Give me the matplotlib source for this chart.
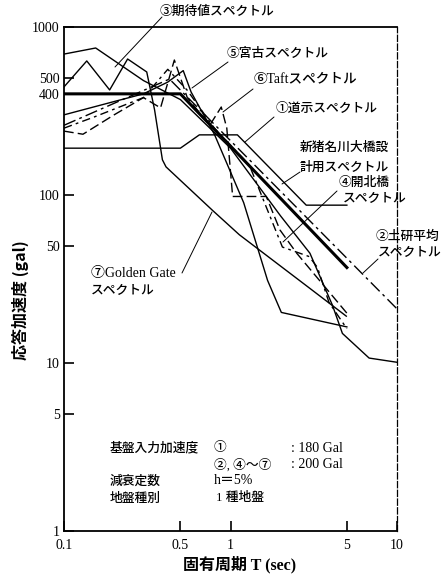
import matplotlib
matplotlib.use("Agg")
import matplotlib.pyplot as plt
from matplotlib.ticker import FixedLocator, NullLocator

plt.rcParams['font.family'] = ['Noto Sans CJK JP', 'DejaVu Sans']
SERIF_MIX = ['Liberation Serif', 'Noto Sans CJK JP', 'DejaVu Sans']

# ---- spectra (period in sec, response acceleration in gal) ----
periods_doji = [0.1, 0.5, 0.65, 1.1, 2.85, 5.0]
accel_doji = [190, 190, 228, 228, 87, 87]

periods_design = [0.1, 0.5, 5.0]
accel_design = [400, 400, 37]

periods_doken = [0.1, 0.43, 10.0]
accel_doken = [260, 490, 21]

periods_expect = [0.1, 0.155, 0.3, 0.5, 1.0, 2.0, 3.0, 4.1, 4.7, 6.8, 10.0]
accel_expect = [690, 750, 480, 370, 190, 75, 45, 22, 15, 10.7, 10.1]

periods_kaihoku = [0.1, 0.15, 0.3, 0.42, 0.55, 0.8, 1.3, 2.05, 2.97, 3.33, 3.9, 5.0]
accel_kaihoku = [250, 290, 380, 560, 420, 250, 150, 49, 43, 37, 23, 16]

periods_miyako = [0.1, 0.2, 0.3, 0.42, 0.52, 0.58, 0.8, 1.2, 1.67, 2.02, 5.0]
accel_miyako = [300, 360, 400, 470, 550, 410, 230, 90, 31, 20, 16.4]

periods_taft = [0.1, 0.13, 0.2, 0.3, 0.38, 0.46, 0.55, 0.75, 0.88, 0.95,
                1.03, 1.64, 1.98, 2.5, 5.0]
accel_taft = [240, 230, 300, 380, 330, 636, 380, 260, 334, 250,
              98, 98, 62, 45, 19.8]

periods_golden = [0.1, 0.137, 0.188, 0.241, 0.314, 0.35, 0.39, 0.41, 0.78,
                  1.13, 2.97, 4.96]
accel_golden = [440, 628, 422, 645, 540, 321, 162, 147, 81, 58, 28, 19]

y_ticks = [1, 5, 10, 50, 100, 400, 500, 1000]
y_tick_labels = ['1', '5', '10', '50', '100', '400', '500', '1000']
x_ticks = [0.1, 0.5, 1, 5, 10]
x_tick_labels = ['0.1', '0.5', '1', '5', '10']

W, H = 447, 578
fig = plt.figure(figsize=(W / 100, H / 100), dpi=100)
ax = fig.add_axes([64 / W, 1 - 531 / H, (397 - 64) / W, (531 - 27) / H])
ax.set_xscale('log')
ax.set_yscale('log')
ax.set_xlim(0.1, 10)
ax.set_ylim(1, 1000)

k = 'black'
ax.plot(periods_design, accel_design, color=k, lw=2.2)
ax.plot(periods_doji, accel_doji, color=k, lw=1.0)
ax.plot(periods_doken, accel_doken, color=k, lw=1.0, dashes=(9, 3, 2, 3))
ax.plot(periods_expect, accel_expect, color=k, lw=1.0)
ax.plot(periods_kaihoku, accel_kaihoku, color=k, lw=1.0, dashes=(6, 3, 2, 3))
ax.plot(periods_miyako, accel_miyako, color=k, lw=1.0)
ax.plot(periods_taft, accel_taft, color=k, lw=1.0, dashes=(7, 3))
ax.plot(periods_golden, accel_golden, color=k, lw=1.0)

# axes frame and ticks
for s in ['left', 'bottom', 'top']:
    ax.spines[s].set_linewidth(1.3)
ax.spines['right'].set_linewidth(0.9)
ax.spines['right'].set_linestyle((0, (5, 2)))

ax.yaxis.set_major_locator(FixedLocator(y_ticks))
ax.yaxis.set_minor_locator(NullLocator())
ax.xaxis.set_major_locator(FixedLocator(x_ticks))
ax.xaxis.set_minor_locator(NullLocator())
ax.set_yticklabels(y_tick_labels, family='Liberation Serif', fontsize=10)
ax.set_xticklabels(x_tick_labels, family='Liberation Serif', fontsize=10)
ax.tick_params(axis='both', direction='in', length=7, width=1.2)
ax.tick_params(axis='y', pad=3)
ax.tick_params(axis='x', pad=6)

fig.text(20 / W, 1 - 300 / H, '応答加速度 (gal)', rotation=90,
         ha='center', va='center', fontsize=11.5, fontweight='bold')
fig.text(240 / W, 1 - 565 / H, '固有周期 T (sec)', ha='center', va='center',
         fontsize=11.5, fontweight='bold', family=SERIF_MIX)

FS = 9.2


def fp(x, y):
    return (x, H - y)


def label(text, xy, serif=False, size=FS):
    kw = dict(family=SERIF_MIX) if serif else {}
    ax.annotate(text, xy=fp(*xy), xycoords='figure pixels',
                ha='left', va='center', fontsize=size, fontweight='medium', **kw)


def leader(start, end):
    ax.annotate('', xy=fp(*end), xycoords='figure pixels',
                xytext=fp(*start), textcoords='figure pixels',
                arrowprops=dict(arrowstyle='-', color=k, lw=0.7,
                                shrinkA=0, shrinkB=0))


label('③期待値スペクトル', (160, 11))
leader((162, 17), (115, 67))
label('⑤宮古スペクトル', (227, 53))
leader((228, 62), (192, 88))
label('⑥Taftスペクトル', (254, 80), serif=True, size=9.8)
leader((253, 89), (223, 112))
label('①道示スペクトル', (276, 108))
leader((274, 117), (245, 142))
label('新猪名川大橋設', (300, 147))
label('計用スペクトル', (300, 167))
leader((300, 172), (282, 184))
label('④開北橋', (339, 182))
label('スペクトル', (343, 198))
leader((337, 191), (283, 242))
label('②土研平均', (376, 236))
label('スペクトル', (378, 252))
leader((378, 259), (363, 273))
label('⑦Golden Gate', (91, 274), serif=True, size=10)
label('スペクトル', (91, 290))
leader((182, 273), (212, 212))

# input conditions
label('基盤入力加速度', (110, 448))
label('①', (214, 448))
label(': 180 Gal', (291, 448), serif=True, size=10)
label('②, ④～⑦', (214, 465), serif=True)
label(': 200 Gal', (291, 465), serif=True, size=10)
label('減衰定数', (110, 481))
label('h＝5%', (214, 481), serif=True, size=10)
label('地盤種別', (110, 498))
label('1 種地盤', (216, 498), serif=True)

fig.savefig('out.png', dpi=100)
